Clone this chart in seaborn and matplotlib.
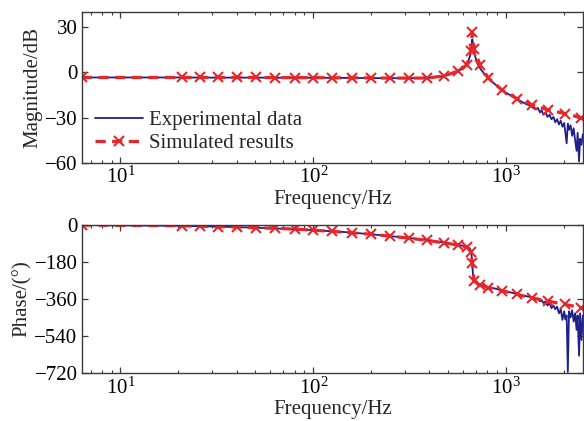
import numpy as np
import pandas as pd
import matplotlib
matplotlib.use("Agg")
import matplotlib.pyplot as plt
import seaborn as sns

# ---------------- data ----------------
sim_freq = [6.3, 20.9, 26, 32.2, 40.3, 50.6, 63.3, 80.7, 100, 125, 158, 200, 250,
            315, 390, 479, 562, 626, 655, 668, 682, 733, 809, 950, 1136, 1368,
            1656, 2022, 2450]
sim_mag = [-3.3, -3.3, -3.3, -3.3, -3.3, -3.3, -3.4, -3.4, -3.4, -3.5, -3.5, -3.6,
           -3.7, -3.7, -3.7, -2.2, 0.9, 5.1, 14.5, 26.7, 15.6, 5.1, -3.7, -11.5,
           -17.3, -21.5, -24.9, -27.3, -30.0]
sim_phase = [-1, -5, -7, -9, -11, -14, -17, -21, -26, -32, -39, -46, -55,
             -65, -76, -88, -98, -108, -130, -185, -274, -290, -306, -320, -338,
             -356, -371, -387, -402]

exp_freq = [6.3, 10, 15, 20, 30, 40, 50, 70, 100, 150, 200, 300, 400, 480, 560,
            600, 630, 650, 660, 668, 675, 690, 710, 740, 780, 820, 880, 950,
            1050, 1150, 1250, 1350, 1420, 1460, 1500, 1530, 1560, 1600, 1640,
            1680, 1720, 1760, 1800, 1840, 1880, 1920, 1960, 2000, 2030, 2060,
            2090, 2120, 2160, 2200, 2240, 2280, 2320, 2350, 2390, 2420, 2460, 2500]
exp_mag = [-3.3, -3.3, -3.3, -3.3, -3.4, -3.4, -3.4, -3.5, -3.5, -3.6, -3.7, -3.8,
           -3.5, -2.3, 0.5, 3.0, 6.0, 11.0, 16.0, 22.0, 18.0, 11.0, 6.0, 2.0, -1.5,
           -4.5, -8.0, -11.8, -15.0, -18.0, -20.5, -22.5, -24.5, -23.5, -26.5,
           -25.0, -28.0, -26.5, -29.5, -28.0, -31.0, -29.5, -33.0, -31.0, -34.5,
           -32.0, -36.0, -33.5, -40.0, -47.0, -34.0, -38.0, -35.0, -42.0, -37.0,
           -45.0, -52.0, -40.0, -59.0, -44.0, -48.0, -41.0]
exp_phase = [-1, -3, -4, -5, -8, -11, -14, -19, -26, -36, -46, -62, -75, -87, -97,
             -102, -107, -115, -135, -190, -260, -278, -285, -292, -298, -303,
             -310, -319, -328, -337, -345, -352, -362, -358, -372, -366, -380,
             -372, -392, -380, -405, -392, -410, -398, -430, -410, -462, -420,
             -460, -440, -715, -420, -450, -415, -470, -430, -510, -440, -636,
             -430, -560, -440]

mag_ticks = [30, 0, -30, -60]
phase_ticks = [0, -180, -360, -540, -720]
labels = ["Experimental data", "Simulated results"]

# ---------------- style ----------------
sns.set_theme(style="ticks")
plt.rcParams["font.family"] = ["Liberation Serif", "DejaVu Serif"]
plt.rcParams["mathtext.fontset"] = "custom"
plt.rcParams["mathtext.rm"] = "Liberation Serif"
plt.rcParams["mathtext.it"] = "Liberation Serif:italic"
plt.rcParams["mathtext.default"] = "regular"
plt.rcParams["axes.unicode_minus"] = True

FS = 15
BLUE = "#20208c"
RED = "#e8262a"
SPINE = "#3a3a3a"

exp_df = pd.DataFrame({"f": exp_freq, "mag": exp_mag, "phase": exp_phase})
sim_df = pd.DataFrame({"f": sim_freq, "mag": sim_mag, "phase": sim_phase})

fig = plt.figure(figsize=(5.84, 4.21), dpi=100)
ax1 = fig.add_axes([0.140, 0.613, 0.858, 0.358])
ax2 = fig.add_axes([0.140, 0.114, 0.858, 0.352])

dash = (0, (3.2, 2.0))
for ax, col, ylab, lim, ticks in [
    (ax1, "mag", "Magnitude/dB", (-60, 40), mag_ticks),
    (ax2, "phase", "Phase/(°)", (-720, 10), phase_ticks),
]:
    sns.lineplot(data=exp_df, x="f", y=col, ax=ax, color=BLUE, linewidth=1.3,
                 sort=False, errorbar=None, label=labels[0])
    sns.lineplot(data=sim_df, x="f", y=col, ax=ax, color=RED, linewidth=2.3,
                 linestyle=dash, marker="x", markersize=6.5, markeredgewidth=1.5,
                 markeredgecolor=RED, sort=False, errorbar=None, label=labels[1])
    ax.set_xscale("log")
    ax.set_xlim(6.3, 2500)
    ax.set_ylim(*lim)
    ax.set_yticks(ticks)
    ax.set_ylabel(ylab, fontsize=FS, labelpad=2)
    ax.set_xlabel("Frequency/Hz", fontsize=FS, labelpad=1)
    ax.tick_params(axis="both", which="both", direction="in", top=True, right=True,
                   labelsize=FS, colors=SPINE, labelcolor="black")
    ax.tick_params(axis="both", which="major", length=4, width=0.9, pad=3)
    ax.tick_params(axis="x", which="minor", length=2.5, width=0.8)
    for s in ax.spines.values():
        s.set_color(SPINE)
        s.set_linewidth(1.0)
    ax.grid(False)

ax2.set_ylim(-720, 0)
ax2.get_legend().remove()
ax1.legend(loc="lower left", bbox_to_anchor=(0.0, -0.025), frameon=False,
           fontsize=FS, handlelength=2.3, handletextpad=0.3, labelspacing=0.15,
           borderaxespad=0.25, numpoints=1)

fig.savefig("out.png", dpi=100)
